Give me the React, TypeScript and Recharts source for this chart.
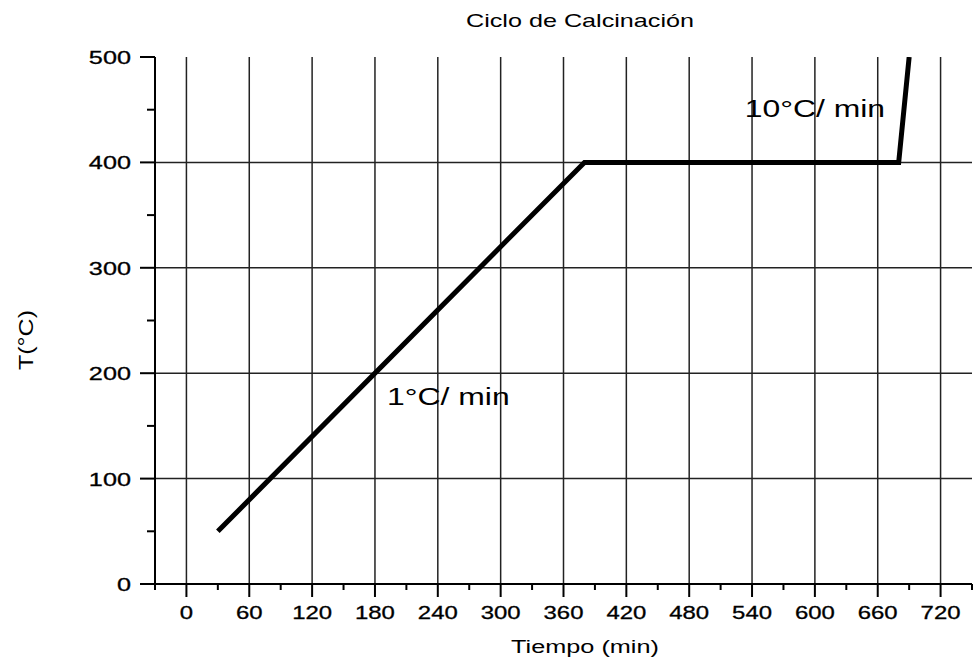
import React from "react";
import { LineChart, Line, XAxis, YAxis, ReferenceLine, ReferenceDot } from "recharts";

// ciclo de calcinación: tiempo (min) vs temperatura (°C)
const tiempo = [30, 380, 680, 690];
const temperatura = [50, 400, 400, 500];

const xTicks = [-30, 0, 30, 60, 90, 120, 150, 180, 210, 240, 270, 300, 330, 360, 390, 420, 450, 480, 510, 540, 570, 600, 630, 660, 690, 720, 750];
const xMajor = [0, 60, 120, 180, 240, 300, 360, 420, 480, 540, 600, 660, 720];
const yTicks = [0, 50, 100, 150, 200, 250, 300, 350, 400, 450, 500];
const yMajor = [0, 100, 200, 300, 400, 500];
const gridY = [100, 200, 300, 400];

const notes = ["1°C/ min", "10°C/ min"];
const noteT = [191.5, 533];
const noteTemp = [170, 443];

const FONT = '"Liberation Sans", Arial, Helvetica, sans-serif';
const SX = 1.33;

const data = tiempo.map((t, i) => ({ t, T: temperatura[i] }));

function XTick({ x, y, payload }: any) {
  const major = xMajor.includes(payload.value);
  return (
    <g>
      <line x1={x} y1={y} x2={x} y2={y + (major ? 13 : 6)} stroke="#000" strokeWidth={2} />
      {major && (
        <text
          transform={`translate(${x},${y + 35}) scale(${SX},1)`}
          textAnchor="middle"
          fontSize={18}
          fontFamily={FONT}
          fill="#000"
          stroke="#000"
          strokeWidth={0.3}
        >
          {payload.value}
        </text>
      )}
    </g>
  );
}

function YTick({ x, y, payload }: any) {
  const major = yMajor.includes(payload.value);
  return (
    <g>
      <line x1={x} y1={y} x2={x - (major ? 15 : 8)} y2={y} stroke="#000" strokeWidth={2} />
      {major && (
        <text
          transform={`translate(${x - 24},${y + 7}) scale(${SX},1)`}
          textAnchor="end"
          fontSize={19}
          fontFamily={FONT}
          fill="#000"
          stroke="#000"
          strokeWidth={0.3}
        >
          {payload.value}
        </text>
      )}
    </g>
  );
}

function note(text: string) {
  return (p: any) => {
    const vb = p.viewBox || {};
    return (
      <text
        transform={`translate(${vb.x},${vb.y}) scale(${SX},1)`}
        fontSize={24}
        fontFamily={FONT}
        fill="#000"
      >
        {text}
      </text>
    );
  };
}

export default function App() {
  return (
    <div style={{ position: "absolute", left: 0, top: 0, width: 974, height: 661, background: "#fff" }}>
      <LineChart width={974} height={661} data={data} margin={{ top: 57, right: 2, bottom: 0, left: 0 }}>
        {xMajor.map((v) => (
          <ReferenceLine key={"gx" + v} x={v} stroke="#222" strokeWidth={1.5} />
        ))}
        {gridY.map((v) => (
          <ReferenceLine key={"gy" + v} y={v} stroke="#222" strokeWidth={1.5} />
        ))}
        <XAxis
          dataKey="t"
          type="number"
          domain={[-30, 750]}
          ticks={xTicks}
          interval={0}
          allowDataOverflow
          height={77}
          tickSize={0}
          tickMargin={0}
          tickLine={false}
          axisLine={{ stroke: "#000", strokeWidth: 2 }}
          tick={<XTick />}
        />
        <YAxis
          type="number"
          domain={[0, 500]}
          ticks={yTicks}
          interval={0}
          allowDataOverflow
          width={155}
          tickSize={0}
          tickMargin={0}
          tickLine={false}
          axisLine={{ stroke: "#000", strokeWidth: 2 }}
          tick={<YTick />}
        />
        <Line
          type="linear"
          dataKey="T"
          stroke="#000"
          strokeWidth={5}
          dot={false}
          isAnimationActive={false}
        />
        {notes.map((n, i) => (
          <ReferenceDot key={n} x={noteT[i]} y={noteTemp[i]} r={0} stroke="none" fill="none" label={note(n)} />
        ))}
      </LineChart>
      <svg width={974} height={661} style={{ position: "absolute", left: 0, top: 0, pointerEvents: "none" }}>
        <text transform="translate(580,27) scale(1.4,1)" textAnchor="middle" fontSize={18} fontFamily={FONT} fill="#000">
          Ciclo de Calcinación
        </text>
        <text transform={`translate(585,653) scale(${SX},1)`} textAnchor="middle" fontSize={19} fontFamily={FONT} fill="#000">
          Tiempo (min)
        </text>
        <text transform="translate(33,340) rotate(-90) scale(1.25,1)" textAnchor="middle" fontSize={20} fontFamily={FONT} fill="#000">
          T(°C)
        </text>
      </svg>
    </div>
  );
}
